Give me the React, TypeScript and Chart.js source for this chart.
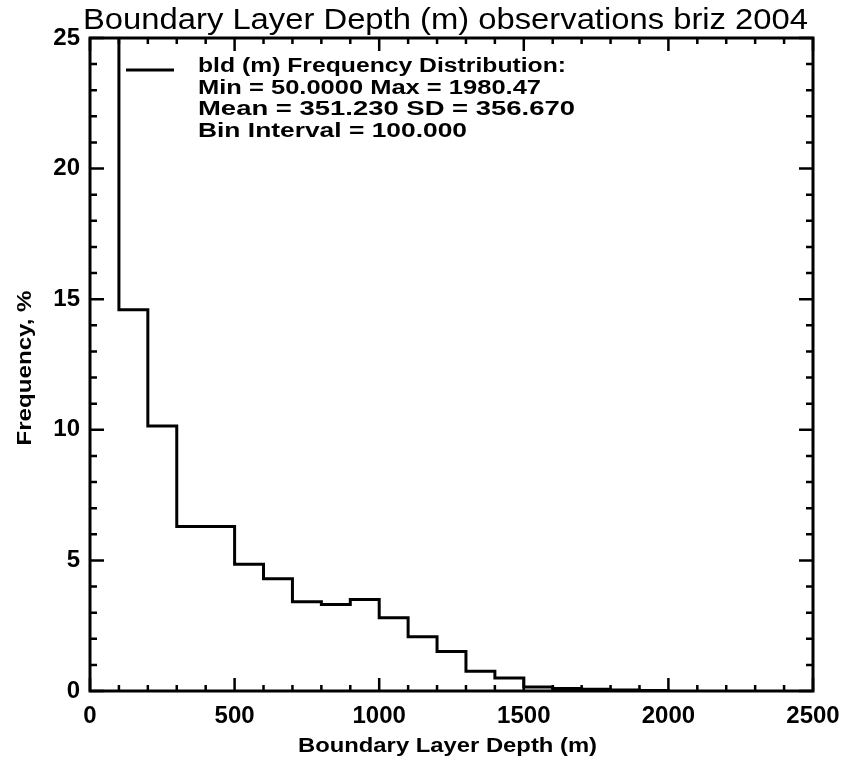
import React, { useEffect, useRef } from "react";
import { Chart, registerables } from "chart.js";

Chart.register(...registerables);

// ---- data ----
const binWidth = 100;
const binStarts = [0, 100, 200, 300, 400, 500, 600, 700, 800, 900, 1000, 1100, 1200, 1300, 1400, 1500, 1600, 1700, 1800, 1900];
const frequency = [35.2, 14.6, 10.15, 6.3, 6.3, 4.85, 4.3, 3.42, 3.31, 3.5, 2.8, 2.08, 1.51, 0.76, 0.5, 0.15, 0.1, 0.07, 0.04, 0.02];
const xRange = [0, 2500];
const yRange = [0, 25];
const xMajorStep = 500;
const yMajorStep = 5;
const xMinorStep = 100;
const yMinorStep = 1;
const titleText = "Boundary Layer Depth (m) observations briz 2004";
const xTitle = "Boundary Layer Depth (m)";
const yTitle = "Frequency, %";
const legendLines = [
  "bld (m) Frequency Distribution:",
  "Min = 50.0000 Max = 1980.47",
  "Mean = 351.230 SD = 356.670",
  "Bin Interval = 100.000",
];

// layout (pixel widths the text lines are fitted to)
const LEGEND_WIDTHS = [368, 343, 377, 269];
const FONT = '"Liberation Sans", Arial, sans-serif';

function fitText(ctx: CanvasRenderingContext2D, text: string, x: number, y: number, width: number, align: "center" | "left") {
  const m = ctx.measureText(text).width;
  const sx = width / m;
  ctx.save();
  ctx.translate(x, y);
  ctx.scale(sx, 1);
  ctx.textAlign = align;
  ctx.fillText(text, 0, 0);
  ctx.restore();
}

const decorPlugin = {
  id: "decor",
  afterDraw(chart: any) {
    const { ctx, chartArea: a, scales } = chart;
    const xs = scales.x;
    const ys = scales.y;
    ctx.save();
    ctx.strokeStyle = "#000";
    ctx.fillStyle = "#000";
    ctx.lineCap = "butt";

    // minor/major ticks (inward, all four sides)
    ctx.lineWidth = 2.5;
    for (let v = xRange[0]; v <= xRange[1] + 1e-9; v += xMinorStep) {
      const px = xs.getPixelForValue(v);
      const len = Math.abs(v % xMajorStep) < 1e-9 ? 13 : 6;
      ctx.beginPath();
      ctx.moveTo(px, a.bottom);
      ctx.lineTo(px, a.bottom - len);
      ctx.moveTo(px, a.top);
      ctx.lineTo(px, a.top + len);
      ctx.stroke();
    }
    for (let v = yRange[0]; v <= yRange[1] + 1e-9; v += yMinorStep) {
      const py = ys.getPixelForValue(v);
      const len = Math.abs(v % yMajorStep) < 1e-9 ? 14 : 7;
      ctx.beginPath();
      ctx.moveTo(a.left, py);
      ctx.lineTo(a.left + len, py);
      ctx.moveTo(a.right, py);
      ctx.lineTo(a.right - len, py);
      ctx.stroke();
    }

    // box
    ctx.lineWidth = 3;
    ctx.strokeRect(a.left, a.top, a.right - a.left, a.bottom - a.top);

    // title
    ctx.textBaseline = "alphabetic";
    ctx.font = `30px ${FONT}`;
    fitText(ctx, titleText, 445.5, 29, 725, "center");

    // x title
    ctx.font = `bold 21px ${FONT}`;
    fitText(ctx, xTitle, 447.5, 752, 299, "center");

    // y title
    ctx.save();
    ctx.translate(31, 368);
    ctx.rotate(-Math.PI / 2);
    ctx.font = `bold 21px ${FONT}`;
    fitText(ctx, yTitle, 0, 0, 155, "center");
    ctx.restore();

    // legend
    ctx.lineWidth = 3;
    ctx.beginPath();
    ctx.moveTo(126, 70);
    ctx.lineTo(174, 70);
    ctx.stroke();
    ctx.font = `bold 20px ${FONT}`;
    legendLines.forEach((t, i) => {
      fitText(ctx, t, 198, 72 + i * 21.7, LEGEND_WIDTHS[i], "left");
    });

    ctx.restore();
  },
};

export default function App() {
  const ref = useRef<HTMLCanvasElement | null>(null);

  useEffect(() => {
    if (!ref.current) return;
    const points = binStarts.map((s, i) => ({ x: s, y: frequency[i] }));
    points.push({ x: binStarts[binStarts.length - 1] + binWidth, y: 0 });

    const chart = new Chart(ref.current, {
      type: "line",
      data: {
        datasets: [
          {
            data: points,
            stepped: "before",
            borderColor: "#000",
            borderWidth: 3,
            pointRadius: 0,
            fill: false,
          },
        ],
      },
      options: {
        animation: false,
        responsive: true,
        maintainAspectRatio: false,
        layout: { padding: { left: 0, right: 33, top: 38, bottom: 0 } },
        plugins: { legend: { display: false }, title: { display: false }, tooltip: { enabled: false } },
        scales: {
          x: {
            type: "linear",
            min: xRange[0],
            max: xRange[1],
            grid: { display: false, drawTicks: false },
            border: { display: false },
            ticks: {
              stepSize: xMajorStep,
              color: "#000",
              font: { family: FONT, size: 24, weight: "bold" },
              padding: 11,
              maxRotation: 0,
              autoSkip: false,
              callback: (v: any) => String(v),
            },
            afterFit: (s: any) => {
              s.height = 66;
              s.paddingLeft = 0;
              s.paddingRight = 0;
            },
          },
          y: {
            type: "linear",
            min: yRange[0],
            max: yRange[1],
            grid: { display: false, drawTicks: false },
            border: { display: false },
            ticks: {
              stepSize: yMajorStep,
              color: "#000",
              font: { family: FONT, size: 24, weight: "bold" },
              padding: 10,
              callback: (v: any) => String(v),
            },
            afterFit: (s: any) => {
              s.width = 90;
              s.paddingTop = 0;
              s.paddingBottom = 0;
            },
          },
        },
      },
      plugins: [decorPlugin],
    });
    return () => chart.destroy();
  }, []);

  return (
    <div style={{ position: "absolute", left: 0, top: 0, width: 846, height: 757, background: "#fff" }}>
      <canvas ref={ref} />
    </div>
  );
}
